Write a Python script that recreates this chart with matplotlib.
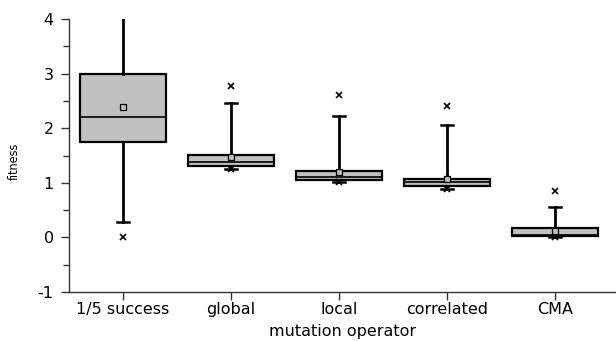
import matplotlib
matplotlib.use("Agg")
import matplotlib.pyplot as plt
from matplotlib.ticker import MultipleLocator

categories = ["1/5 success", "global", "local", "correlated", "CMA"]
q1 = [1.74, 1.31, 1.06, 0.94, 0.03]
med = [2.20, 1.38, 1.10, 1.01, 0.05]
q3 = [3.00, 1.51, 1.21, 1.075, 0.165]
mean = [2.38, 1.48, 1.19, 1.07, 0.12]
whis_lo = [0.29, 1.25, 1.01, 0.88, 0.00]
whis_hi = [4.10, 2.46, 2.22, 2.05, 0.55]
p_hi = [None, 2.78, 2.61, 2.41, 0.85]
p_lo = [0.01, 1.25, 1.01, 0.88, 0.00]

plt.rcParams['font.family'] = ['DejaVu Sans']
plt.rcParams['axes.unicode_minus'] = False

fig = plt.figure(figsize=(6.16, 3.41), dpi=100)
ax = fig.add_axes([69/616, 1-292/341, 1-69/616, (292-19)/341])

stats = []
for i, c in enumerate(categories):
    stats.append(dict(label=c, q1=q1[i], med=med[i], q3=q3[i], mean=mean[i],
                      whislo=whis_lo[i], whishi=whis_hi[i], fliers=[]))
pos = list(range(1, len(categories)+1))
ax.bxp(stats, positions=pos, widths=0.8, patch_artist=True, showmeans=True,
       showcaps=True, showfliers=False,
       boxprops=dict(facecolor='#c0c0c0', edgecolor='black', linewidth=1.6),
       medianprops=dict(color='black', linewidth=1.2),
       whiskerprops=dict(color='black', linewidth=2.0),
       capprops=dict(color='black', linewidth=1.8),
       capwidths=0.11,
       meanprops=dict(marker='s', markersize=4.5, markerfacecolor='#c0c0c0',
                      markeredgecolor='black', markeredgewidth=0.9))
for i, p in enumerate(pos):
    if p_hi[i] is not None:
        ax.plot(p, p_hi[i], marker='x', color='black', markersize=4, mew=1.2)
    ax.plot(p, p_lo[i], marker='x', color='black', markersize=4, mew=1.2)

ax.set_xlim(0.5, 5.565)
ax.set_ylim(-1, 4)
ax.yaxis.set_major_locator(MultipleLocator(1))
ax.yaxis.set_minor_locator(MultipleLocator(0.5))
ax.set_xticks(pos)
ax.set_xticklabels(categories)
for s in ['top', 'right']:
    ax.spines[s].set_visible(False)
for s in ['left', 'bottom']:
    ax.spines[s].set_linewidth(1.0)
    ax.spines[s].set_color('#333333')
ax.tick_params(axis='both', which='major', length=6, width=1.0, labelsize=11.5, color='#333333')
ax.tick_params(axis='y', which='major', pad=5)
ax.tick_params(axis='x', which='major', pad=1.5)
ax.tick_params(axis='y', which='minor', length=4, width=1.0, color='#333333')
ax.set_xlabel("mutation operator", fontsize=11.5, labelpad=5)
ax.set_ylabel("fitness", fontsize=9, fontstretch='condensed')
ax.yaxis.set_label_coords(-(69-21)/547, (292-161)/273)

fig.savefig("out.png", dpi=100)
